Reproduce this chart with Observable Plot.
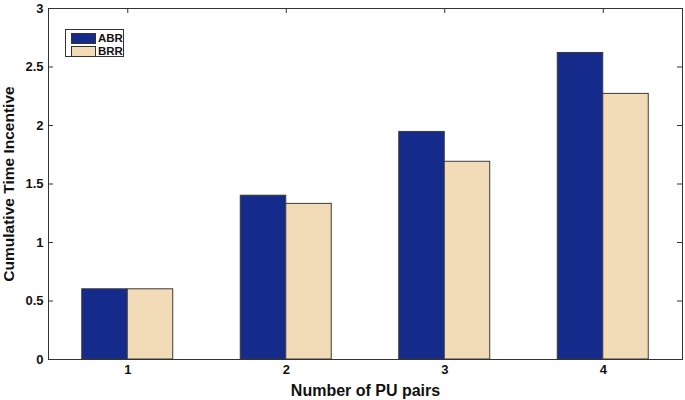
<!DOCTYPE html>
<html><head><meta charset="utf-8">
<script src="https://cdn.jsdelivr.net/npm/d3@7"></script>
<script src="https://cdn.jsdelivr.net/npm/@observablehq/plot@0.6"></script>
<style>
body{margin:0;background:#fff;}
#wrap{position:relative;width:685px;height:400px;font-family:Arial,"Liberation Sans",Helvetica,sans-serif;}
.legend{position:absolute;left:65px;top:29px;width:57px;height:26px;border:1px solid #333;background:#fff;box-sizing:content-box;}
.item{position:absolute;left:5px;display:flex;align-items:center;font-size:11.5px;font-weight:bold;color:#111;}
.sw{width:23px;height:9px;border:1px solid #333;margin-right:2px;}
</style></head>
<body><div id="wrap"></div>
<script>
const categories = [1, 2, 3, 4];
const seriesNames = ["ABR", "BRR"];
const abr = [0.60, 1.40, 1.945, 2.62];
const brr = [0.60, 1.33, 1.69, 2.27];
const yTicks = [0, 0.5, 1, 1.5, 2, 2.5, 3];
const colors = ["#142b8c", "#f2dcb8"];
const xLabel = "Number of PU pairs";
const yLabel = "Cumulative Time Incentive";

const data = categories.flatMap((c, i) => [
  {cat: c, series: "ABR", value: abr[i]},
  {cat: c, series: "BRR", value: brr[i]}
]);
const barW = 0.287;
const W = 685, H = 400, mL = 48, mR = 3, mT = 8, mB = 41;
const innerW = W - mL - mR, innerH = H - mT - mB, tk = 5;

const chart = Plot.plot({
  width: W, height: H,
  marginLeft: mL, marginRight: mR, marginTop: mT, marginBottom: mB,
  style: {fontFamily: "Arial, 'Liberation Sans', Helvetica, sans-serif", fontSize: "13px", fontWeight: "bold", color: "#111", background: "#fff"},
  x: {domain: [0.5, 4.5]},
  y: {domain: [0, 3]},
  color: {domain: seriesNames, range: colors},
  marks: [
    Plot.tickY(yTicks.slice(1, -1), {y: d => d, insetRight: innerW - tk, stroke: "#333"}),
    Plot.tickY(yTicks.slice(1, -1), {y: d => d, insetLeft: innerW - tk, stroke: "#333"}),
    Plot.tickX(categories, {x: d => d, insetTop: innerH - tk, stroke: "#333"}),
    Plot.tickX(categories, {x: d => d, insetBottom: innerH - tk, stroke: "#333"}),
    Plot.rectY(data, {
      x1: d => d.series === "ABR" ? d.cat - barW : d.cat,
      x2: d => d.series === "ABR" ? d.cat : d.cat + barW,
      y1: 0, y2: "value", fill: "series", stroke: "#3a3a3a", strokeWidth: 1
    }),
    Plot.frame({stroke: "#333"}),
    Plot.axisY({ticks: yTicks, tickSize: 0, tickPadding: 5, tickFormat: d => String(d), label: null}),
    Plot.axisX({ticks: categories, tickSize: 0, tickPadding: 5, tickFormat: d => String(d), label: null}),
    Plot.text([xLabel], {text: d => d, frameAnchor: "bottom", dy: 31, fontSize: 16, lineAnchor: "middle", textAnchor: "middle", dx: 0}),
    Plot.text([yLabel], {text: d => d, frameAnchor: "left", dx: -39, rotate: -90, fontSize: 15.5, textAnchor: "middle", lineAnchor: "middle"})
  ]
});
const wrap = document.getElementById("wrap");
wrap.appendChild(chart);
const lg = document.createElement("div");
lg.className = "legend";
seriesNames.forEach((s, i) => {
  const it = document.createElement("div");
  it.className = "item";
  it.style.top = (2 + i * 13) + "px";
  const sw = document.createElement("div");
  sw.className = "sw";
  sw.style.background = colors[i];
  it.appendChild(sw);
  it.appendChild(document.createTextNode(s));
  lg.appendChild(it);
});
wrap.appendChild(lg);
</script></body></html>
